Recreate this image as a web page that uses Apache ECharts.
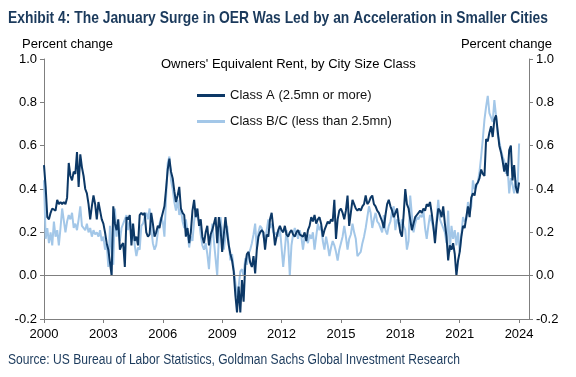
<!DOCTYPE html>
<html>
<head>
<meta charset="utf-8">
<script src="https://cdn.jsdelivr.net/npm/echarts@6/dist/echarts.min.js"></script>
<style>
  html, body { margin: 0; padding: 0; background: #fff; }
  #chart { width: 576px; height: 377px; }
</style>
</head>
<body>
<div id="chart"></div>
<script>
// monthly values, Jan 2000 .. Jan 2024
var classA = [
  0.51, 0.41, 0.27, 0.26, 0.29, 0.31, 0.31, 0.30, 0.35, 0.33, 0.34, 0.33, // 2000
  0.34, 0.33, 0.36, 0.52, 0.46, 0.44, 0.48, 0.47, 0.57, 0.41, 0.56, 0.50, // 2001
  0.46, 0.40, 0.38, 0.33, 0.26, 0.32, 0.37, 0.33, 0.26, 0.34, 0.30, 0.26, // 2002
  0.24, 0.20, 0.15, 0.12, 0.06, 0.00, 0.32, 0.24, 0.21, 0.26, 0.12, 0.14, // 2003
  0.15, 0.04, 0.27, 0.26, 0.28, 0.14, 0.24, 0.16, 0.18, 0.14, 0.28, 0.29, // 2004
  0.28, 0.29, 0.20, 0.18, 0.19, 0.29, 0.24, 0.18, 0.20, 0.23, 0.22, 0.26, // 2005
  0.26, 0.32, 0.40, 0.49, 0.54, 0.48, 0.45, 0.39, 0.34, 0.37, 0.41, 0.31, // 2006
  0.29, 0.28, 0.18, 0.22, 0.15, 0.20, 0.30, 0.35, 0.27, 0.31, 0.23, 0.26, // 2007
  0.18, 0.15, 0.20, 0.23, 0.14, 0.19, 0.21, 0.24, 0.27, 0.15, 0.27, 0.22, // 2008
  0.11, 0.19, 0.27, 0.20, 0.14, 0.10, 0.07, 0.02, -0.09, -0.17, -0.05, -0.17, // 2009
  -0.02, -0.12, 0.05, 0.10, 0.11, 0.06, 0.04, 0.09, 0.01, 0.12, 0.18, 0.20, // 2010
  0.21, 0.20, 0.12, 0.19, 0.18, 0.26, 0.29, 0.22, 0.14, 0.18, 0.21, 0.23, // 2011
  0.21, 0.20, 0.23, 0.19, 0.18, 0.20, 0.21, 0.19, 0.18, 0.20, 0.21, 0.19, // 2012
  0.19, 0.18, 0.20, 0.16, 0.21, 0.23, 0.27, 0.25, 0.28, 0.24, 0.26, 0.27, // 2013
  0.24, 0.18, 0.21, 0.23, 0.25, 0.24, 0.26, 0.25, 0.35, 0.17, 0.26, 0.30, // 2014
  0.31, 0.29, 0.26, 0.30, 0.37, 0.23, 0.29, 0.35, 0.33, 0.31, 0.30, 0.31, // 2015
  0.30, 0.32, 0.33, 0.37, 0.33, 0.34, 0.36, 0.37, 0.33, 0.32, 0.30, 0.29, // 2016
  0.29, 0.25, 0.22, 0.28, 0.33, 0.35, 0.32, 0.30, 0.27, 0.29, 0.31, 0.25, // 2017
  0.20, 0.18, 0.28, 0.40, 0.33, 0.31, 0.26, 0.21, 0.24, 0.27, 0.28, 0.29, // 2018
  0.30, 0.29, 0.31, 0.30, 0.33, 0.32, 0.34, 0.29, 0.23, 0.15, 0.24, 0.31, // 2019
  0.30, 0.27, 0.32, 0.24, 0.18, 0.07, 0.14, 0.12, 0.15, 0.10, 0.00, 0.07, // 2020
  0.11, 0.18, 0.23, 0.22, 0.22, 0.32, 0.27, 0.36, 0.38, 0.37, 0.42, 0.43, // 2021
  0.45, 0.49, 0.47, 0.46, 0.63, 0.62, 0.66, 0.69, 0.64, 0.72, 0.74, 0.67, // 2022
  0.60, 0.57, 0.53, 0.48, 0.52, 0.46, 0.58, 0.60, 0.44, 0.51, 0.41, 0.38, // 2023
  0.43                                                                    // 2024
];
var classBC = [
  0.44, 0.17, 0.22, 0.15, 0.20, 0.14, 0.25, 0.18, 0.21, 0.14, 0.22, 0.31, // 2000
  0.31, 0.20, 0.25, 0.28, 0.26, 0.29, 0.22, 0.24, 0.21, 0.26, 0.32, 0.23, // 2001
  0.23, 0.21, 0.24, 0.20, 0.22, 0.18, 0.21, 0.19, 0.20, 0.18, 0.21, 0.16, // 2002
  0.18, 0.12, 0.15, 0.04, 0.23, 0.10, 0.05, 0.31, 0.18, 0.25, 0.16, 0.22, // 2003
  0.22, 0.26, 0.28, 0.21, 0.25, 0.23, 0.22, 0.14, 0.09, 0.13, 0.12, 0.23, // 2004
  0.24, 0.27, 0.29, 0.26, 0.31, 0.22, 0.15, 0.12, 0.14, 0.20, 0.24, 0.27, // 2005
  0.25, 0.18, 0.36, 0.52, 0.55, 0.44, 0.40, 0.34, 0.30, 0.35, 0.28, 0.31, // 2006
  0.25, 0.22, 0.26, 0.20, 0.13, 0.18, 0.16, 0.25, 0.31, 0.27, 0.25, 0.19, // 2007
  0.14, 0.12, 0.15, 0.10, 0.03, 0.15, 0.24, 0.16, 0.08, 0.00, 0.18, 0.27, // 2008
  0.20, 0.12, 0.18, 0.23, 0.15, 0.07, 0.10, 0.03, -0.03, -0.10, -0.05, 0.02, // 2009
  0.03, 0.00, 0.08, 0.05, 0.10, 0.12, 0.15, 0.19, 0.24, 0.12, 0.20, 0.23, // 2010
  0.22, 0.18, 0.15, 0.21, 0.26, 0.22, 0.24, 0.20, 0.19, 0.20, 0.18, 0.22, // 2011
  0.22, 0.04, 0.12, 0.21, 0.15, 0.00, 0.14, 0.19, 0.22, 0.20, 0.17, 0.21, // 2012
  0.18, 0.12, 0.18, 0.17, 0.15, 0.19, 0.17, 0.20, 0.12, 0.18, 0.24, 0.21, // 2013
  0.23, 0.16, 0.12, 0.18, 0.14, 0.09, 0.13, 0.16, 0.14, 0.11, 0.07, 0.12, // 2014
  0.15, 0.18, 0.23, 0.18, 0.12, 0.17, 0.19, 0.24, 0.20, 0.17, 0.09, 0.10, // 2015
  0.11, 0.15, 0.18, 0.22, 0.27, 0.32, 0.29, 0.22, 0.26, 0.29, 0.25, 0.24, // 2016
  0.24, 0.20, 0.28, 0.21, 0.19, 0.23, 0.25, 0.30, 0.32, 0.21, 0.26, 0.24, // 2017
  0.22, 0.26, 0.23, 0.21, 0.12, 0.16, 0.37, 0.28, 0.20, 0.24, 0.27, 0.26, // 2018
  0.28, 0.27, 0.30, 0.22, 0.17, 0.23, 0.28, 0.28, 0.22, 0.18, 0.26, 0.35, // 2019
  0.26, 0.24, 0.22, 0.20, 0.15, 0.30, 0.11, 0.23, 0.17, 0.21, 0.14, 0.20, // 2020
  0.11, 0.19, 0.27, 0.25, 0.26, 0.34, 0.29, 0.32, 0.44, 0.40, 0.41, 0.43, // 2021
  0.48, 0.55, 0.63, 0.72, 0.78, 0.83, 0.75, 0.73, 0.71, 0.81, 0.74, 0.65, // 2022
  0.62, 0.58, 0.55, 0.53, 0.47, 0.50, 0.38, 0.45, 0.42, 0.38, 0.44, 0.39, // 2023
  0.61                                                                    // 2024
];
var startYear = 2000;
var seriesNames = ['Class A (2.5mn or more)', 'Class B/C (less than 2.5mn)'];
var titleText = 'Exhibit 4: The January Surge in OER Was Led by an Acceleration in Smaller Cities';
var sourceText = 'Source: US Bureau of Labor Statistics, Goldman Sachs Global Investment Research';

function toPoints(arr) {
  return arr.map(function (v, i) { return [startYear + i / 12, v]; });
}

var navy = '#0c3866';
var sky = '#a3c7e8';
var axisGrey = '#7f7f7f';
var ink = '#1b3a5c';
var font = 'Liberation Sans, Arial, sans-serif';

// the original uses a condensed face; squeeze a regular one to the same width
var ctx = document.createElement('canvas').getContext('2d');
function squeeze(text, cssFont, width) {
  ctx.font = cssFont;
  return width / ctx.measureText(text).width;
}
var titleFont = 'bold 17px Liberation Sans';
var sourceFont = '14px Liberation Sans';

var chart = echarts.init(document.getElementById('chart'));

var yAxisCommon = {
  type: 'value',
  min: -0.2,
  max: 1.0,
  interval: 0.2,
  axisLine: { show: true, lineStyle: { color: axisGrey, width: 1 } },
  axisTick: { show: true, length: 4, lineStyle: { color: axisGrey } },
  splitLine: { show: false },
  axisLabel: {
    color: '#000', fontFamily: font, fontSize: 13, margin: 7,
    formatter: function (v) { return v.toFixed(1); }
  }
};

var option = {
  backgroundColor: '#fff',
  animation: false,
  graphic: [
    {
      type: 'text', x: 8, y: 10,
      scaleX: squeeze(titleText, titleFont, 540),
      style: { text: titleText, font: titleFont, fill: ink }
    },
    {
      type: 'text', x: 8, y: 353,
      scaleX: squeeze(sourceText, sourceFont, 452),
      style: { text: sourceText, font: sourceFont, fill: ink }
    }
  ],
  title: [
    {
      text: 'Percent change', left: 17, top: 33,
      textStyle: { color: '#000', fontSize: 13, fontWeight: 'normal', fontFamily: font }
    },
    {
      text: 'Percent change', right: 19, top: 33,
      textStyle: { color: '#000', fontSize: 13, fontWeight: 'normal', fontFamily: font }
    },
    {
      text: "Owners' Equivalent Rent, by City Size Class", left: 156, top: 53,
      textStyle: { color: '#000', fontSize: 13, fontWeight: 'normal', fontFamily: font }
    }
  ],
  legend: {
    data: seriesNames,
    orient: 'vertical',
    left: 192, top: 84,
    itemWidth: 28, itemHeight: 3, itemGap: 13,
    icon: 'rect',
    textStyle: { color: '#111', fontSize: 13, fontFamily: font }
  },
  grid: { left: 44, right: 47, top: 59, bottom: 58 },
  xAxis: {
    type: 'value',
    min: 2000,
    max: 2024.5,
    interval: 3,
    axisLine: { show: true, onZero: false, lineStyle: { color: axisGrey } },
    axisTick: { show: true, length: 4, lineStyle: { color: axisGrey } },
    splitLine: { show: false },
    axisLabel: {
      color: '#000', fontFamily: font, fontSize: 13, margin: 9,
      showMaxLabel: false,
      formatter: function (v) { return (v - startYear) % 3 === 0 ? String(v) : ''; }
    }
  },
  yAxis: [
    Object.assign({}, yAxisCommon, { position: 'left' }),
    Object.assign({}, yAxisCommon, { position: 'right' })
  ],
  series: [
    {
      name: seriesNames[1],
      type: 'line',
      data: toPoints(classBC),
      showSymbol: false,
      lineStyle: { color: sky, width: 2 },
      itemStyle: { color: sky },
      z: 2,
      markLine: {
        silent: true, symbol: 'none', label: { show: false },
        lineStyle: { color: axisGrey, width: 1, type: 'solid' },
        data: [{ yAxis: 0 }]
      }
    },
    {
      name: seriesNames[0],
      type: 'line',
      data: toPoints(classA),
      showSymbol: false,
      lineStyle: { color: navy, width: 2 },
      itemStyle: { color: navy },
      z: 3
    }
  ]
};

chart.setOption(option);
</script>
</body>
</html>
